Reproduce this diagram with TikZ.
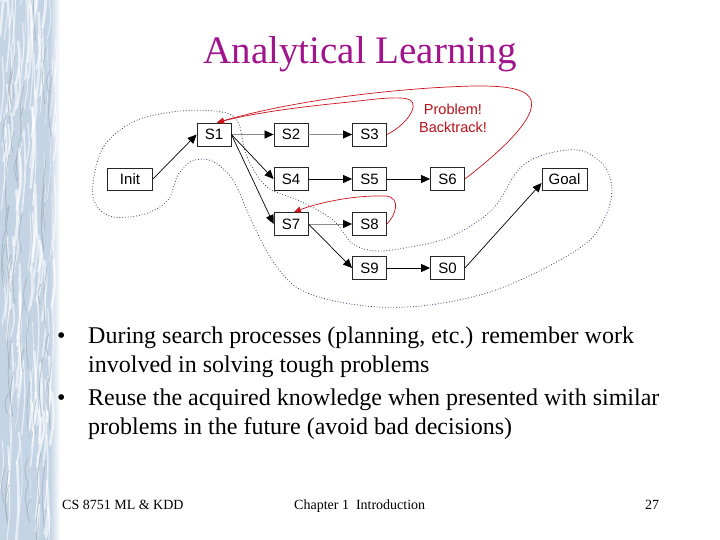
\documentclass[tikz,border=0pt]{standalone}
\usepackage{fontspec}
\setmainfont{Liberation Serif}
\newfontfamily\arialfont{Liberation Sans}
\usepackage{xcolor}
\usepackage{tikz}
\usetikzlibrary{arrows.meta,positioning,calc}

\definecolor{titlepurple}{RGB}{160,20,140}
\definecolor{backred}{RGB}{205,20,30}
\definecolor{contourblue}{RGB}{60,60,120}
\definecolor{stripblue}{RGB}{196,212,228}

\begin{document}
\begin{tikzpicture}[x=1pt, y=-1pt,
  state/.style={draw=black!85, line width=0.8pt, fill=white, minimum width=34pt, minimum height=23pt, inner sep=0pt, font=\arialfont\fontsize{15}{18}\selectfont},
  endstate/.style={state, minimum width=45pt, minimum height=22pt},
  flow/.style={line width=0.7pt, -{Triangle[length=9pt,width=8pt]}},
  liteflow/.style={flow, draw=black!45, -{Triangle[length=9pt,width=8pt,color=black]}},
  backtrack/.style={backred, line width=0.7pt, -{Triangle[length=7pt,width=6pt]}},
  contour/.style={contourblue, line width=0.8pt, dotted},
  bodytext/.style={anchor=base west, inner sep=0pt, font=\fontsize{24}{29}\selectfont},
  foot/.style={anchor=base west, inner sep=0pt, font=\fontsize{14}{16}\selectfont}
]
  \useasboundingbox (0,0) rectangle (720,540);
  \fill[white] (0,0) rectangle (720,540);

  % textured side strip
  \fill[stripblue] (0,0) rectangle (50,540);
  \shade[left color=stripblue, right color=white] (50,0) rectangle (60,540);
  \pgfmathsetseed{11}
  \foreach \i in {1,...,140}{
    \pgfmathsetmacro{\sx}{rnd*54}
    \pgfmathsetmacro{\sy}{rnd*560}
    \pgfmathsetmacro{\sl}{30+rnd*60}
    \pgfmathsetmacro{\sw}{0.5+rnd*2.2}
    \draw[white, opacity=0.6, line width=\sw pt, line cap=round]
      (\sx,\sy) .. controls ($(\sx,\sy)+(4,-\sl/2)$) .. ($(\sx,\sy)+(2,-\sl)$);
  }
  \foreach \i in {1,...,50}{
    \pgfmathsetmacro{\sx}{rnd*52}
    \pgfmathsetmacro{\sy}{rnd*560}
    \pgfmathsetmacro{\sl}{20+rnd*50}
    \draw[black!20!stripblue, opacity=0.6, line width=0.9pt, line cap=round]
      (\sx,\sy) .. controls ($(\sx,\sy)+(-3,-\sl/2)$) .. ($(\sx,\sy)+(1,-\sl)$);
  }

  \node[anchor=base, inner sep=0pt, text=titlepurple, font=\fontsize{39}{44}\selectfont] (title) at (360,64) {Analytical Learning};

  % search space outline
  \draw[contour] plot[smooth cycle, tension=0.55] coordinates {
    (93,183) (104,146) (135,121) (180,111) (222,112) (238,122) (247,157)
    (267,187) (300,201) (333,220) (353,244) (377,251) (410,247) (450,237)
    (492,210) (520,168) (550,153) (583,151) (607,170) (611,200) (592,238)
    (547,267) (490,292) (430,305) (378,307) (330,300) (296,287) (272,260)
    (252,222) (233,180) (212,161) (192,161) (178,175) (168,200) (145,214)
    (113,217) (96,205)};

  \node[endstate] (Init) at (130,179) {Init};
  \node[endstate] (Goal) at (564.5,179) {Goal};
  \foreach \n/\x/\y in {S1/214/134.5, S2/291/134.5, S3/369.5/134.5,
                        S4/291/179, S5/369.5/179, S6/447.5/179,
                        S7/291/224, S8/369.5/224, S9/369.5/268, S0/447.5/268}
    \node[state] (\n) at (\x,\y) {\n};

  \draw[flow] (Init.east) -- (S1.west);
  \draw[liteflow] (S1) -- (S2);
  \draw[liteflow] (S2) -- (S3);
  \draw[flow] (S1.east) -- (S4.west);
  \draw[flow] (S1.east) -- (S7.west);
  \draw[flow] (S4) -- (S5);
  \draw[flow] (S5) -- (S6);
  \draw[liteflow] (S7) -- (S8);
  \draw[flow] (S7.east) -- (S9.west);
  \draw[flow] (S9) -- (S0);
  \draw[flow] (S0.east) -- (Goal.190);

  % backtracking
  \draw[backtrack] (S3.east) .. controls (405,126) and (420,106) .. (410,100)
    .. controls (400,95) and (370,100) .. (340,103)
    .. controls (290,108) and (250,114) .. ([xshift=3pt]S1.north);
  \draw[backtrack] (S6.east) .. controls (500,152) and (537,118) .. (531,100)
    .. controls (525,83) and (480,85) .. (430,88)
    .. controls (330,95) and (260,110) .. ([xshift=3pt]S1.north);
  \draw[backtrack] (S8.east) .. controls (395,216) and (402,198) .. (386,196)
    .. controls (350,195) and (315,204) .. ([xshift=3pt]S7.north);
  \node[anchor=base, inner sep=0pt, align=center, text=backred!90!black, font=\arialfont\fontsize{14.5}{18}\selectfont] (problem) at (453,133) {Problem!\\Backtrack!};

  % bullets
  \foreach \yy in {343,405}
    \node[bodytext] at (57,\yy) {\textbullet};
  \node[bodytext] (b1) at (88,343) {During search processes (planning, etc.) remember work};
  \node[bodytext] (b1b) at (88,372) {involved in solving tough problems};
  \node[bodytext] (b2) at (88,405) {Reuse the acquired knowledge when presented with similar};
  \node[bodytext] (b2b) at (88,434) {problems in the future (avoid bad decisions)};

  % footer
  \node[foot] (course) at (62,509) {CS 8751 ML \& KDD};
  \node[foot] (chapter) at (294,509) {Chapter 1\ \ Introduction};
  \node[foot] (page) at (645,509) {27};
\end{tikzpicture}
\end{document}
